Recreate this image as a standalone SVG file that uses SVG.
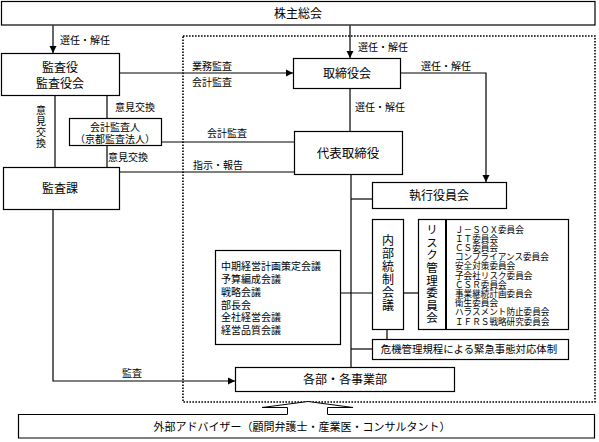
<svg xmlns="http://www.w3.org/2000/svg" width="599" height="442" viewBox="0 0 599 442">
<defs>
<marker id="ah" markerWidth="8" markerHeight="8" refX="7" refY="4" orient="auto" markerUnits="userSpaceOnUse">
<path d="M0,0.5 L7,4 L0,7.5 Z" fill="#000"/>
</marker>
<style>
.b{fill:#fff;stroke:#000;stroke-width:1.2}
.l{fill:none;stroke:#000;stroke-width:1.2}
.t{font-family:"Noto Sans CJK JP","Noto Sans CJK SC",sans-serif;fill:#000}
.c{text-anchor:middle}
.s10{font-size:10px}
.s11{font-size:11px}
.s12{font-size:12px}
.v{writing-mode:vertical-rl;text-anchor:start}
.dot{fill:none;stroke:#000;stroke-width:1.6;stroke-dasharray:1.6 1.4}
</style>
</defs>
<rect width="599" height="442" fill="#fff"/>
<rect class="dot" x="183" y="36" width="412" height="366"/>
<g id="connectors">
<line class="l" x1="53" y1="25.5" x2="53" y2="53" marker-end="url(#ah)"/>
<line class="l" x1="350" y1="25.5" x2="350" y2="58" marker-end="url(#ah)"/>
<line class="l" x1="120" y1="73" x2="293" y2="73" marker-end="url(#ah)"/>
<path class="l" d="M400.5,73 H486 V182" marker-end="url(#ah)"/>
<path class="l" d="M53,209.5 V381 H235" marker-end="url(#ah)"/>
<line class="l" x1="350" y1="88.5" x2="350" y2="131.5"/>
<line class="l" x1="55" y1="95.5" x2="55" y2="167.5"/>
<line class="l" x1="107" y1="95.5" x2="107" y2="118.5"/>
<line class="l" x1="107" y1="145.5" x2="107" y2="167.5"/>
<line class="l" x1="161.5" y1="142" x2="294.5" y2="142"/>
<line class="l" x1="119.5" y1="172" x2="294.5" y2="172"/>
<line class="l" x1="351" y1="174.5" x2="351" y2="367.5"/>
<line class="l" x1="351" y1="199" x2="372.5" y2="199"/>
<line class="l" x1="340.5" y1="293" x2="372.5" y2="293"/>
<line class="l" x1="403.5" y1="293" x2="418.5" y2="293"/>
<line class="l" x1="387" y1="329.5" x2="387" y2="339.5"/>
<line class="l" x1="351" y1="349" x2="372.5" y2="349"/>
<path d="M287.5,414.5 V407.5 H262 L308,401.5 L353,407.5 H327.5 V414.5" fill="#fff" stroke="#000" stroke-width="1"/>
<text class="t s10" x="60" y="44">選任・解任</text>
<text class="t s10" x="358" y="51">選任・解任</text>
<text class="t s10" x="421" y="70">選任・解任</text>
<text class="t s10" x="355" y="111">選任・解任</text>
<text class="t s10" x="192" y="70">業務監査</text>
<text class="t s10" x="192" y="86">会計監査</text>
<text class="t s10" x="115" y="111">意見交換</text>
<text class="t s10" x="207" y="137">会計監査</text>
<text class="t s10" x="108" y="161">意見交換</text>
<text class="t s10" x="193" y="169">指示・報告</text>
<text class="t s10" x="122" y="377">監査</text>
<text class="t s10 v" x="41" y="105" style="letter-spacing:1px">意見交換</text>
</g>
<g id="kabunushi"><rect class="b" x="1.5" y="1.5" width="593.5" height="23.5"/><text class="t s12 c" x="298" y="17.5">株主総会</text></g>
<g id="kansayaku"><rect class="b" x="1.5" y="53.5" width="118" height="42"/><text class="t s12 c" x="60" y="72">監査役</text><text class="t s12 c" x="60" y="88">監査役会</text></g>
<g id="torishimariyakukai"><rect class="b" x="293.5" y="58.5" width="107" height="30"/><text class="t s12 c" x="347" y="78">取締役会</text></g>
<g id="kaikeikansanin"><rect class="b" x="69.5" y="118.5" width="92" height="27"/><text class="t s10 c" x="115" y="130.5">会計監査人</text><text class="t s10 c" x="115" y="142.5">（京都監査法人）</text></g>
<g id="kansaka"><rect class="b" x="3.5" y="167.5" width="116" height="42"/><text class="t s12 c" x="60" y="192.5">監査課</text></g>
<g id="daihyo"><rect class="b" x="294.5" y="131.5" width="108" height="43"/><text class="t c" style="font-size:12.5px" x="348" y="157.5">代表取締役</text></g>
<g id="shikkou"><rect class="b" x="372.5" y="182.5" width="134" height="26"/><text class="t s12 c" x="439" y="200">執行役員会</text></g>
<g id="naibutousei"><rect class="b" x="372.5" y="219.5" width="31" height="110"/><text class="t s12 v" x="388" y="234" style="letter-spacing:1px">内部統制会議</text></g>
<g id="risk"><rect class="b" x="418.5" y="219.5" width="150" height="110"/><line x1="446" y1="219.5" x2="446" y2="329.5" stroke="#000" stroke-width="2"/>
<text class="t v" x="432" y="224" style="font-size:11.5px;letter-spacing:1.1px">リスク管理委員会</text>
<text class="t" style="font-size:8.6px"><tspan x="455" y="232.5">Ｊ－ＳＯＸ委員会</tspan><tspan x="455" y="241.5">ＩＴ委員会</tspan><tspan x="455" y="250.5">ＣＳ委員会</tspan><tspan x="455" y="260">コンプライアンス委員会</tspan><tspan x="455" y="269">安全対策委員会</tspan><tspan x="455" y="278.5">子会社リスク委員会</tspan><tspan x="455" y="287.5">ＣＳＲ委員会</tspan><tspan x="455" y="296.5">事業継続計画委員会</tspan><tspan x="455" y="306">衛生委員会</tspan><tspan x="455" y="315">ハラスメント防止委員会</tspan><tspan x="455" y="324.5">ＩＦＲＳ戦略研究委員会</tspan></text></g>
<g id="kaigi"><rect class="b" x="215.5" y="250.5" width="125" height="94"/>
<text class="t s10"><tspan x="221" y="270">中期経営計画策定会議</tspan><tspan x="221" y="283">予算編成会議</tspan><tspan x="221" y="296">戦略会議</tspan><tspan x="221" y="308.5">部長会</tspan><tspan x="221" y="321">全社経営会議</tspan><tspan x="221" y="334">経営品質会議</tspan></text></g>
<g id="kiki"><rect class="b" x="372.5" y="339.5" width="196" height="20"/><text class="t c" style="font-size:10.4px" x="469" y="353">危機管理規程による緊急事態対応体制</text></g>
<g id="kakubu"><rect class="b" x="235.5" y="367.5" width="219" height="24"/><text class="t s12 c" x="345" y="384">各部・各事業部</text></g>
<g id="gaibu"><path d="M287.5,414.5 H18.5 V438 H594.5 V414.5 H327.5" fill="#fff" stroke="#000" stroke-width="1.2"/><text class="t s11 c" x="302" y="430.5">外部アドバイザー（顧問弁護士・産業医・コンサルタント）</text></g>
</svg>
